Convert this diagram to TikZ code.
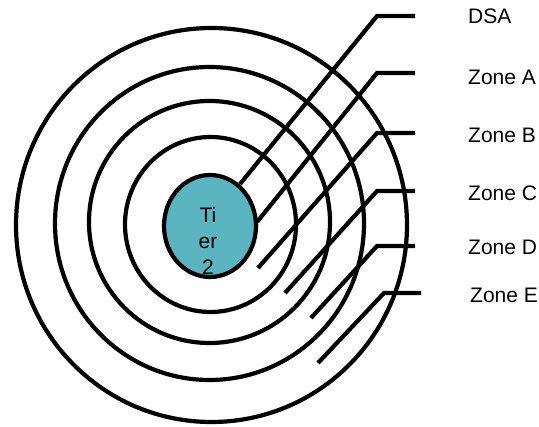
\documentclass[tikz,border=0pt]{standalone}
\usepackage{fontspec}
\setmainfont{Liberation Sans}
\usetikzlibrary{shapes.geometric}
\definecolor{tierfill}{RGB}{90,181,192}

\begin{document}
\begin{tikzpicture}[x=1pt, y=-1pt,
    ring/.style={draw=black, line width=4.2pt},
    leader/.style={draw=black, line width=4.2pt},
    zone/.style={font=\fontsize{21}{24}\selectfont, anchor=west, inner sep=0pt},
    tiercore/.style={ellipse, draw=black, line width=4.2pt, fill=tierfill,
      minimum width=92pt, minimum height=102pt, inner sep=0pt},
    tiertext/.style={font=\fontsize{21}{26}\selectfont, align=center, inner sep=0pt},
  ]
  \useasboundingbox (0,0) rectangle (539,427);
  % rings, outermost first
  \draw[ring] (211.5,225) ellipse [x radius=195.5pt, y radius=197pt];
  \draw[ring] (209.5,223.5) ellipse [x radius=154.5pt, y radius=156.5pt];
  \draw[ring] (209.5,222) ellipse [x radius=120.5pt, y radius=121pt];
  \draw[ring] (210.5,224.5) ellipse [x radius=85.5pt, y radius=87.5pt];
  \node[tiercore] (tier) at (210,226) {};
  \node[tiertext] (tiertxt) at (208,241) {Ti\\er\\2};

  % labels
  \node[zone] (dsa) at (468,16) {DSA};
  \node[zone] (zoneA) at (468,77) {Zone A};
  \node[zone] (zoneB) at (468,135) {Zone B};
  \node[zone] (zoneC) at (468,193) {Zone C};
  \node[zone] (zoneD) at (468,247) {Zone D};
  \node[zone] (zoneE) at (470,295) {Zone E};

  % leader lines
  \coordinate (dsaEnd) at (240,184);  \coordinate (dsaBend) at (377,16);  \coordinate (dsaTip) at (415,16);
  \coordinate (aEnd) at (257,222);    \coordinate (aBend) at (377,73);    \coordinate (aTip) at (415,73);
  \coordinate (bEnd) at (258,268);    \coordinate (bBend) at (377,133);   \coordinate (bTip) at (415,133);
  \coordinate (cEnd) at (285,293);    \coordinate (cBend) at (377,191);   \coordinate (cTip) at (415,191);
  \coordinate (dEnd) at (311,318);    \coordinate (dBend) at (377,246);   \coordinate (dTip) at (415,246);
  \coordinate (eEnd) at (318,363);    \coordinate (eBend) at (384,293);   \coordinate (eTip) at (421,293);
  \draw[leader] (dsaEnd) -- (dsaBend) -- (dsaTip);
  \draw[leader] (aEnd) -- (aBend) -- (aTip);
  \draw[leader] (bEnd) -- (bBend) -- (bTip);
  \draw[leader] (cEnd) -- (cBend) -- (cTip);
  \draw[leader] (dEnd) -- (dBend) -- (dTip);
  \draw[leader] (eEnd) -- (eBend) -- (eTip);
\end{tikzpicture}
\end{document}
